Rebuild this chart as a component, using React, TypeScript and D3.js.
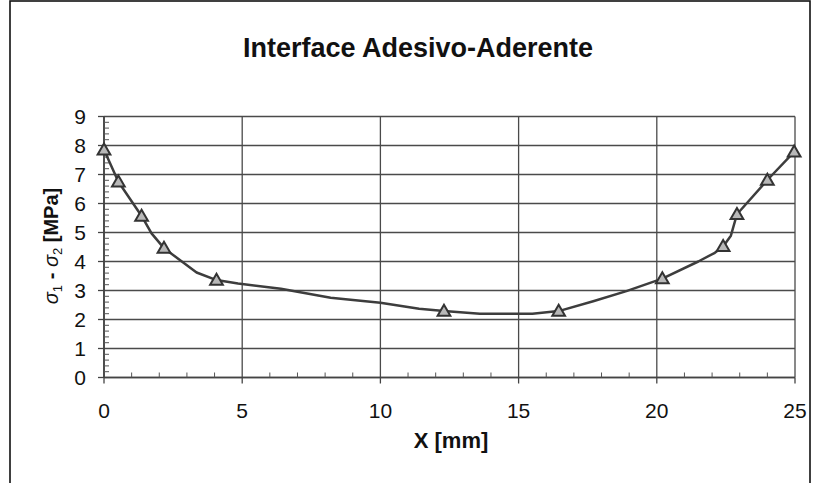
import React from "react";
import * as d3 from "d3";

const title = "Interface Adesivo-Aderente";
const xTitle = "X [mm]";
const xTicks = [0, 5, 10, 15, 20, 25];
const yTicks = [0, 1, 2, 3, 4, 5, 6, 7, 8, 9];

// curve (as traced)
const lineX = [0, 0.52, 1.36, 1.72, 2.17, 3.35, 4.07, 4.85, 6.4, 8.2, 10.0, 11.4, 12.3, 13.6, 15.5, 16.45, 17.7, 18.9, 20.2, 21.5, 22.1, 22.4, 22.68, 22.9, 24.0, 24.97];
const lineY = [7.85, 6.75, 5.57, 4.97, 4.46, 3.62, 3.36, 3.24, 3.06, 2.75, 2.58, 2.37, 2.29, 2.2, 2.2, 2.29, 2.63, 2.98, 3.41, 4.0, 4.3, 4.52, 4.89, 5.63, 6.81, 7.78];

// triangle markers
const markerX = [0, 0.52, 1.36, 2.17, 4.07, 12.3, 16.45, 20.2, 22.4, 22.9, 24.0, 24.97];
const markerY = [7.85, 6.75, 5.57, 4.46, 3.36, 2.29, 2.29, 3.41, 4.52, 5.63, 6.81, 7.78];

const W = 815, H = 483;
const L = 104, R = 795, T = 116.5, B = 377.5;
const font = "'Liberation Sans', Arial, sans-serif";

export default function App() {
  const x = d3.scaleLinear().domain([0, 25]).range([L, R]);
  const y = d3.scaleLinear().domain([0, 9]).range([B, T]);
  const line = d3.line<number>().x((_, i) => x(lineX[i])).y((d) => y(d));
  const xMinor = d3.range(0, 25.001, 1).filter((v) => v % 5 !== 0);
  const yMinor = d3.range(0, 9.001, 0.2).filter((v) => Math.abs(v - Math.round(v)) > 0.01);
  const tri = d3.symbol().type(d3.symbolTriangle).size(70)();
  const grid = "#4a4a4a";
  return (
    <svg width={W} height={H} style={{ position: "absolute", left: 0, top: 0, background: "#fff" }} fontFamily={font}>
      <rect x={10} y={1} width={800} height={H + 5} fill="none" stroke="#111" strokeWidth={1.6} />
      <text x={418} y={57} textAnchor="middle" fontSize={27} fontWeight="bold" fill="#111">{title}</text>
      {yTicks.map((t) => (
        <line key={"hg" + t} x1={L} x2={R} y1={y(t)} y2={y(t)} stroke={grid} strokeWidth={1.3} />
      ))}
      {xTicks.map((t) => (
        <line key={"vg" + t} x1={x(t)} x2={x(t)} y1={T} y2={B} stroke={grid} strokeWidth={1.3} />
      ))}
      <line x1={L} x2={L} y1={T} y2={B} stroke="#444" strokeWidth={1.7} />
      <line x1={L} x2={R} y1={B} y2={B} stroke="#444" strokeWidth={1.7} />
      {yTicks.map((t) => (
        <line key={"yt" + t} x1={L - 6} x2={L} y1={y(t)} y2={y(t)} stroke="#444" strokeWidth={1.3} />
      ))}
      {yMinor.map((t, i) => (
        <line key={"ym" + i} x1={L} x2={L + 5} y1={y(t)} y2={y(t)} stroke="#555" strokeWidth={1} />
      ))}
      {xTicks.map((t) => (
        <line key={"xt" + t} x1={x(t)} x2={x(t)} y1={B} y2={B + 6} stroke="#444" strokeWidth={1.3} />
      ))}
      {xMinor.map((t, i) => (
        <line key={"xm" + i} x1={x(t)} x2={x(t)} y1={B} y2={B - 5} stroke="#555" strokeWidth={1} />
      ))}
      {yTicks.map((t) => (
        <text key={"yl" + t} x={86} y={y(t) + 7.5} textAnchor="end" fontSize={21} fill="#111">{t}</text>
      ))}
      {xTicks.map((t) => (
        <text key={"xl" + t} x={x(t)} y={418} textAnchor="middle" fontSize={21} fill="#111">{t}</text>
      ))}
      <text x={451} y={448} textAnchor="middle" fontSize={22} fontWeight="bold" fill="#111">{xTitle}</text>
      <text transform="translate(58,246) rotate(-90)" textAnchor="middle" fontSize={20} fill="#111">
        <tspan fontStyle="italic">σ</tspan>
        <tspan fontSize={13} dy={4}>1</tspan>
        <tspan dy={-4} fontWeight="bold"> - </tspan>
        <tspan fontStyle="italic">σ</tspan>
        <tspan fontSize={13} dy={4}>2</tspan>
        <tspan dy={-4} fontWeight="bold"> [MPa]</tspan>
      </text>
      <path d={line(lineY) || ""} fill="none" stroke="#3d3d3d" strokeWidth={2.5} strokeLinejoin="round" />
      {markerY.map((v, i) => (
        <path key={"m" + i} d={tri || ""} transform={`translate(${x(markerX[i])},${y(v) + 1})`} fill="#b8b8b8" stroke="#333" strokeWidth={2} />
      ))}
    </svg>
  );
}
